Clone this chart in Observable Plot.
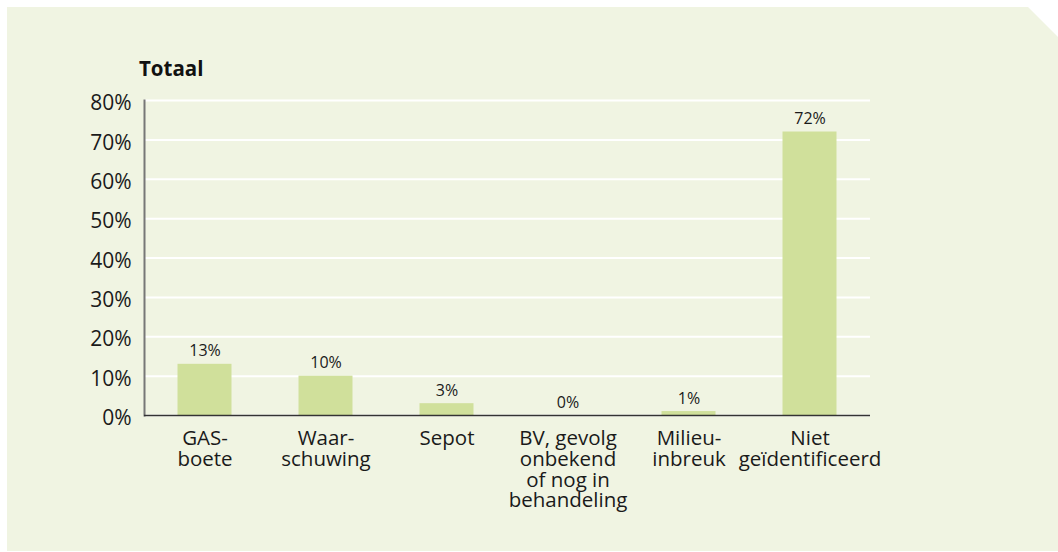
<!DOCTYPE html>
<html><head><meta charset="utf-8">
<script src="https://cdn.jsdelivr.net/npm/d3@7"></script>
<script src="https://cdn.jsdelivr.net/npm/@observablehq/plot@0.6"></script>
<style>
body{margin:0;background:#fff;width:1058px;height:552px;overflow:hidden;position:relative;font-family:"Open Sans",sans-serif}
#panel{position:absolute;left:7px;top:7px;width:1051px;height:544px;background:#f0f4e2;clip-path:polygon(0 0,1021px 0,1051px 30px,1051px 544px,0 544px)}
#title{position:absolute;left:139px;top:55px;font-weight:bold;font-size:20.5px;color:#111;line-height:26px}
#chart{position:absolute;left:0;top:0}
</style></head><body>
<div id="panel"></div>
<div id="title">Totaal</div>
<div id="chart"></div>
<script>
const categories = ["GAS-\nboete", "Waar-\nschuwing", "Sepot", "BV, gevolg\nonbekend\nof nog in\nbehandeling", "Milieu-\ninbreuk", "Niet\ngeïdentificeerd"];
const values = [13, 10, 3, 0, 1, 72];
const yTicks = [0, 10, 20, 30, 40, 50, 60, 70, 80];

const data = categories.map((c, i) => ({category: c, value: values[i]}));

const chart = Plot.plot({
  width: 1058, height: 552,
  marginLeft: 144, marginRight: 188, marginTop: 100, marginBottom: 137,
  style: {background: "transparent", fontFamily: "'Open Sans', sans-serif", color: "#1a1a1a"},
  x: {domain: categories, padding: 0, label: null},
  y: {domain: [0, 80], label: null},
  marks: [
    Plot.gridY(yTicks, {stroke: "#ffffff", strokeOpacity: 1, strokeWidth: 2}),
    Plot.barY(data, {x: "category", y: "value", fill: "#d0e09b", insetLeft: 33.5, insetRight: 33.5}),
    Plot.text(data, {x: "category", y: "value", text: d => d.value + "%", dy: -13, fontSize: 16, fill: "#1a1a1a"}),
    Plot.frame({anchor: "left", stroke: "#777", strokeWidth: 2}),
    Plot.ruleY([0], {stroke: "#333", strokeWidth: 1.5}),
    Plot.axisY(yTicks, {tickSize: 0, tickPadding: 13, tickFormat: d => d + "%", fontSize: 21, dy: 3, label: null}),
    Plot.axisX({tickSize: 0, tickPadding: 15, fontSize: 20.5, lineHeight: 1.01, label: null})
  ]
});
document.getElementById("chart").appendChild(chart);
</script>
</body></html>
